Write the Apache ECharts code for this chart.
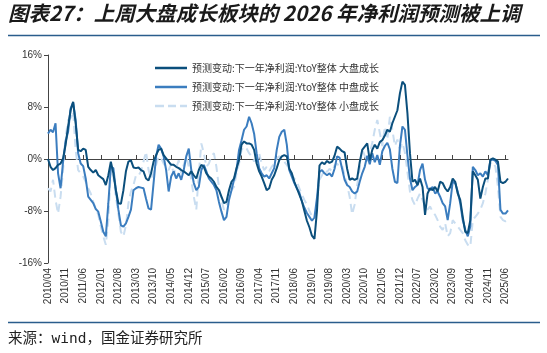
<!DOCTYPE html>
<html>
<head>
<meta charset="utf-8">
<script src="https://cdn.jsdelivr.net/npm/echarts@6/dist/echarts.min.js"></script>
<style>
html,body{margin:0;padding:0;background:#fff;}
#c{width:547px;height:353px;}
</style>
</head>
<body>
<div id="c"></div>
<script>
// Monthly categories 2010/04 .. 2025/07
var startYear = 2010, startMonth = 4, monthCount = 184;
var categories = [];
for (var k = 0; k < monthCount; k++) {
  var m = startMonth - 1 + k;
  var y = startYear + Math.floor(m / 12);
  var mm = (m % 12) + 1;
  categories.push(y + '/' + (mm < 10 ? '0' + mm : '' + mm));
}

var yTicks = [-16, -8, 0, 8, 16];

var seriesNames = [
  '预测变动:下一年净利润:YtoY整体 大盘成长',
  '预测变动:下一年净利润:YtoY整体 中盘成长',
  '预测变动:下一年净利润:YtoY整体 小盘成长'
];

var largeGrowth = [
  0, -1.2, -1.7, -1.4, -0.9, -0.7, 0.1, 2.2, 5.0, 7.5, 8.8, 5.5, 1.4, 1.2, 1.6, 1.4,
  -1.2, -1.7, -2.1, -1.7, -2.5, -2.8, -3.1, -4.0, -2.5, -0.4, -2.2, -4.8, -6.8, -6.9, -4.8, -1.9,
  -0.4, -0.2, -1.3, -1.4, -1.3, -1.7, -1.9, -3.0, -3.3, -2.2, -0.4, 0.6, 1.4, 1.6, 0.6, 0.1,
  -0.4, -0.9, -0.9, -1.2, -1.4, -1.7, -1.9, -2.2, -2.5, -1.9, -2.5, -3.0, -1.7, -0.9, -1.2, -2.2,
  -2.7, -3.0, -3.5, -4.3, -4.8, -5.8, -6.8, -6.6, -4.8, -3.5, -3.0, -1.4, -0.2, 2.2, 2.7, 2.4,
  2.4, 2.2, 1.4, -0.7, -1.9, -2.7, -3.7, -4.8, -4.5, -3.2, -2.5, -1.4, -0.2, 0.4, 0.6, 0.4,
  -1.5, -2.2, -3.5, -4.5, -5.5, -6.5, -8.0, -9.5, -10.5, -11.8, -12.3, -8.0, -1.0, -0.5, -0.8, -0.3,
  -0.6, -0.4, 0.5, 1.9, 1.6, 1.2, 1.0, -1.5, -3.2, -3.0, -3.2, -3.0, -0.5, 1.4, 1.9, 2.4,
  -0.2, 1.4, 2.2, 1.6, 2.6, 2.9, 3.6, 4.5, 4.2, 5.5, 6.5, 7.5, 10.1, 11.9, 11.4, 7.0,
  0.9, -3.5, -3.2, -4.0, -3.0, -4.3, -8.6, -5.3, -4.5, -4.8, -4.3, -5.0, -3.5, -3.7, -4.5, -5.0,
  -4.3, -3.0, -3.5, -5.3, -6.3, -8.9, -11.2, -11.4, -9.4, -1.9, -2.5, -3.2, -6.1, -4.3, -3.0, -3.0,
  -0.1, 0.1, -0.1, -0.4, -3.5, -3.7, -3.5, -3.0
];

var midGrowth = [
  3.9, 4.5, 4.1, 5.5, -2.2, -4.5, -0.4, 2.7, 4.2, 7.8, 8.7, 6.0, 0.9, -0.7, -1.1, -3.0,
  -5.8, -6.3, -6.8, -7.7, -8.1, -9.6, -11.2, -11.9, -6.8, -1.2, -1.4, -4.8, -7.8, -10.2, -10.4, -9.9,
  -8.9, -7.8, -4.8, -4.5, -4.3, -4.4, -4.5, -6.1, -7.6, -7.8, -3.7, 0.4, 2.2, 1.6, 0.4, -1.7,
  -5.0, -2.7, -1.9, -3.0, -2.2, -3.2, -1.7, 0.4, 1.6, -1.7, -3.7, -4.8, -4.3, -1.7, -0.9, -1.9,
  -3.0, -3.5, -4.0, -4.8, -6.6, -8.1, -9.4, -8.9, -6.3, -4.8, -3.2, -1.7, 1.4, 2.9, 4.5, 5.0,
  6.5, 5.5, 3.9, 0.9, -1.4, -2.2, -2.7, -2.5, -3.0, -2.2, -1.4, 1.4, 3.4, 4.2, 4.5, 2.2,
  -1.7, -2.7, -3.7, -4.5, -5.2, -6.5, -7.5, -8.3, -8.9, -9.5, -9.0, -6.0, -2.0, -1.7, -2.2, -2.5,
  -2.2, -2.7, -1.5, 0.4, 0.2, -1.5, -3.2, -4.0, -4.3, -5.0, -5.3, -5.0, -3.5, -2.2, -1.2, 0.5,
  -0.8, 0.9, -0.5, 0.6, -0.9, 1.2, 2.0, 2.5, 1.5, -1.5, -3.5, -3.7, 2.0, 5.0, 4.5, 0.5,
  -3.0, -4.8, -4.3, -4.0, -1.7, -0.7, -3.2, -4.5, -4.8, -4.3, -5.3, -5.0, -5.8, -6.8, -7.3, -9.4,
  -6.8, -3.5, -3.7, -5.0, -6.8, -9.4, -10.9, -11.9, -10.4, -1.2, -1.7, -2.5, -2.2, -2.7, -1.9, -2.5,
  -0.2, -0.1, -0.3, -0.9, -7.8, -8.4, -8.4, -7.9
];

var smallGrowth = [
  -4.5, -5.0, -3.2, -6.3, -8.4, -5.8, -1.7, 3.4, 6.0, 6.3, 7.3, 1.4, -1.7, -2.2, -2.7, -3.5,
  -4.5, -5.3, -6.6, -7.6, -8.6, -10.4, -11.9, -13.2, -9.4, -1.4, -2.7, -5.8, -8.4, -11.2, -11.9, -10.2,
  -6.8, -5.0, -4.0, -2.5, -2.6, -1.9, -0.4, 1.1, -1.7, -3.0, -2.2, -0.9, 0.4, 0.1, -0.7, -1.2,
  -1.7, -0.7, -2.2, -1.4, -0.2, -2.2, -0.9, 0.4, -1.2, -3.2, -5.8, -7.8, -2.2, 2.4, 0.9, -1.2,
  -0.7, 0.4, 0.9, -1.2, -4.3, -6.3, -7.8, -7.3, -5.3, -4.8, -4.3, -2.2, -0.7, 1.4, 1.9, 1.6,
  0.9, 0.4, -0.4, 0.4, 0.9, -0.7, -1.7, -1.2, -1.9, -1.2, -0.7, 0.1, 0.4, 0.1, -0.4, -0.9,
  -1.5, -2.5, -3.0, -3.5, -4.5, -5.5, -6.3, -7.0, -8.0, -8.8, -9.2, -6.5, -3.2, -2.5, -1.7, -2.0,
  -1.5, -1.9, -1.0, -0.7, -1.2, -1.0, -2.5, -4.0, -5.8, -8.5, -7.0, -4.0, -1.5, 1.5, 0.5, -0.5,
  1.0, 2.5, 4.5, 6.0, 4.0, 2.0, 5.0, 3.0, 6.5, 4.5, 2.0, 3.0, 1.5, 2.5, 1.0, -2.0,
  -5.0, -6.3, -7.1, -6.1, -5.3, -6.3, -7.3, -7.8, -7.3, -8.1, -8.6, -9.4, -10.4, -10.9, -9.9, -11.9,
  -11.4, -9.4, -9.9, -10.4, -10.9, -11.4, -12.5, -13.2, -13.5, -9.4, -8.9, -8.4, -7.8, -6.8, -5.3, -3.2,
  -0.7, -0.4, -1.2, -4.3, -8.9, -9.4, -9.6, -9.4
];

var colors = ['#0b4f7c', '#3b7dbf', '#c9ddf0'];
var fontCN = '"Noto Sans CJK SC", "Noto Sans", sans-serif';
var solidIcon = 'path://M0,0h32v2.5h-32z';
var dashIcon = 'path://M0,0h9v2.5h-9z M13,0h8v2.5h-8z M25,0h7v2.5h-7z';

var chart = echarts.init(document.getElementById('c'), null, {renderer: 'canvas'});
chart.setOption({
  animation: false,
  backgroundColor: '#ffffff',
  grid: {left: 48, right: 39, top: 55, bottom: 90, containLabel: false},
  legend: {
    orient: 'vertical',
    left: 150,
    top: 58,
    itemWidth: 32,
    itemHeight: 12,
    itemGap: 9,
    selectedMode: false,
    data: [
      {name: seriesNames[0], icon: solidIcon},
      {name: seriesNames[1], icon: solidIcon},
      {name: seriesNames[2], icon: dashIcon}
    ],
    textStyle: {fontSize: 10, color: '#333', fontFamily: fontCN}
  },
  xAxis: [
    {
      type: 'category',
      data: categories,
      boundaryGap: false,
      position: 'bottom',
      axisLine: {show: false, onZero: false},
      axisTick: {show: false},
      axisLabel: {
        interval: 6, rotate: 90, fontSize: 10, color: '#333', margin: 5,
        fontFamily: 'Liberation Sans, Arial, sans-serif'
      },
      splitLine: {show: false}
    },
    {
      type: 'category',
      data: categories,
      boundaryGap: false,
      position: 'bottom',
      axisLine: {show: true, onZero: true, onZeroAxisIndex: 0, lineStyle: {color: '#444', width: 1}},
      axisTick: {show: true, inside: true, interval: 6, length: 4, lineStyle: {color: '#444'}},
      axisLabel: {show: false},
      splitLine: {show: false}
    }
  ],
  yAxis: {
    type: 'value',
    min: yTicks[0],
    max: yTicks[yTicks.length - 1],
    interval: 8,
    axisLine: {show: true, lineStyle: {color: '#444', width: 1}},
    axisTick: {show: true, length: 4, lineStyle: {color: '#444'}},
    axisLabel: {formatter: '{value}%', fontSize: 10, color: '#333', margin: 6,
      fontFamily: 'Liberation Sans, Arial, sans-serif'},
    splitLine: {show: false}
  },
  series: [
    {
      name: seriesNames[0], type: 'line', data: largeGrowth, xAxisIndex: 0,
      symbol: 'none', showSymbol: false, z: 4,
      lineStyle: {color: colors[0], width: 2}, itemStyle: {color: colors[0]}
    },
    {
      name: seriesNames[1], type: 'line', data: midGrowth, xAxisIndex: 0,
      symbol: 'none', showSymbol: false, z: 3,
      lineStyle: {color: colors[1], width: 2}, itemStyle: {color: colors[1]}
    },
    {
      name: seriesNames[2], type: 'line', data: smallGrowth, xAxisIndex: 0,
      symbol: 'none', showSymbol: false, z: 2,
      lineStyle: {color: colors[2], width: 2, type: [8, 5]}, itemStyle: {color: colors[2]}
    }
  ],
  graphic: [
    {
      type: 'text', left: 8, top: 3,
      style: {
        text: '图表27：上周大盘成长板块的 2026 年净利润预测被上调',
        fontSize: 20.5, fontWeight: 'bold', fontStyle: 'italic',
        fill: '#1a1a1a', fontFamily: fontCN
      }
    },
    {
      type: 'line', shape: {x1: 8, y1: 35.5, x2: 540, y2: 35.5},
      style: {stroke: '#2a5d8c', lineWidth: 1.5}
    },
    {
      type: 'line', shape: {x1: 8, y1: 322.5, x2: 540, y2: 322.5},
      style: {stroke: '#2a5d8c', lineWidth: 1.5}
    },
    {
      type: 'text', left: 8, top: 332,
      style: {
        text: '来源：wind，国金证券研究所',
        fontSize: 14.5, fill: '#222',
        fontFamily: '"DejaVu Sans Mono", "Noto Sans CJK SC", monospace'
      }
    }
  ]
});
</script>
</body>
</html>
